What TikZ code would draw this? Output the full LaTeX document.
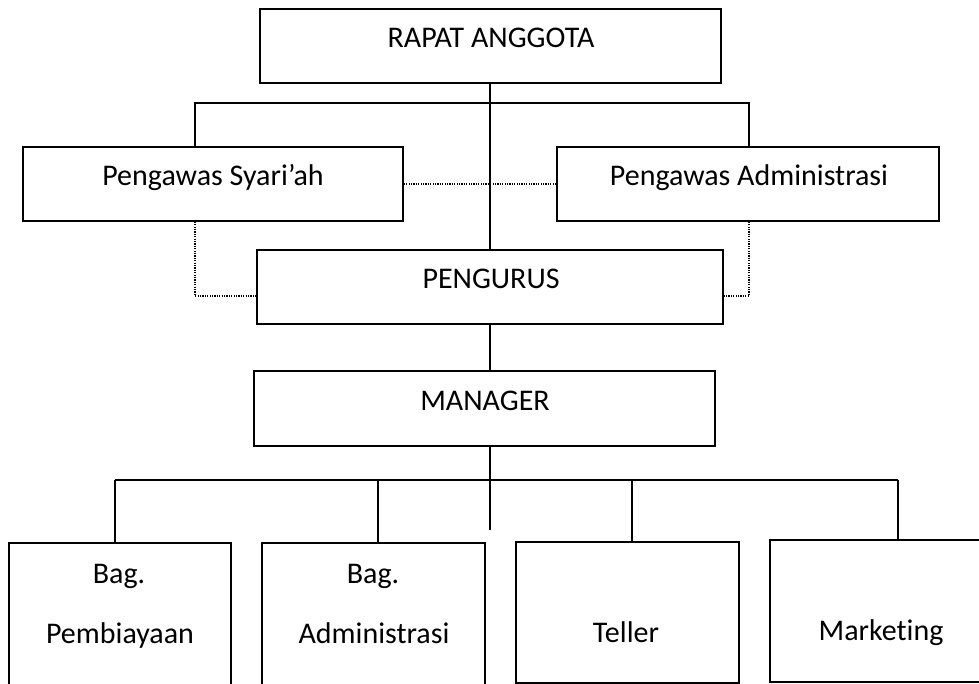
\documentclass[tikz,border=0pt]{standalone}
\usepackage{fontspec}
\setmainfont{Carlito}[Ligatures={NoCommon}]
\begin{document}
\begin{tikzpicture}[x=1pt,y=-1pt,
  box/.style={draw=black,line width=1.5pt,rectangle,inner sep=0pt,fill=white},
  conn/.style={draw=black,line width=1.3pt},
  dotl/.style={draw=black,line width=1.4pt,dash pattern=on 1.2pt off 1.2pt},
  lbl/.style={anchor=base,inner sep=0pt,font=\fontsize{30}{36}\selectfont}]
\useasboundingbox (0,0) rectangle (979,684);
\clip (0,0) rectangle (979,684);
% columns and junctions
\coordinate (cx) at (490,0);
\coordinate (jL) at (195,103);
\coordinate (jR) at (749,103);
\coordinate (dL) at (195,296);
\coordinate (dR) at (749,296);
\coordinate (stub) at (490,530);
\coordinate (c1) at (115,480);
\coordinate (c2) at (378,480);
\coordinate (c3) at (632,480);
\coordinate (c4) at (898,480);
% boxes
\node[box,minimum width=461,minimum height=74] (ra) at (490.5,46) {};
\node[box,minimum width=380,minimum height=74] (ps) at (213,184) {};
\node[box,minimum width=382,minimum height=74] (pa) at (748,184) {};
\node[box,minimum width=466,minimum height=74] (pg) at (490,287) {};
\node[box,minimum width=461,minimum height=75] (mg) at (484.5,408.5) {};
\node[box,minimum width=222,minimum height=200] (b1) at (120,643) {};
\node[box,minimum width=223,minimum height=200] (b2) at (373.5,643) {};
\node[box,minimum width=223,minimum height=141] (b3) at (627.5,612.5) {};
\node[box,minimum width=215,minimum height=142] (b4) at (877.5,611) {};
% connectors
\draw[conn] (ra.south -| cx) -- (pg.north -| cx);
\draw[conn] (ps.north -| jL) -- (jL) -- (jR) -- (pa.north -| jR);
\draw[dotl] (ps.east) -- (pa.west);
\draw[dotl] (ps.south -| dL) -- (dL) -- (dL -| pg.west);
\draw[dotl] (pa.south -| dR) -- (dR) -- (dR -| pg.east);
\draw[conn] (pg.south -| cx) -- (mg.north -| cx);
\draw[conn] (mg.south -| cx) -- (stub);
\draw[conn] (c1) -- (c4);
\draw[conn] (c1) -- (b1.north -| c1);
\draw[conn] (c2) -- (b2.north -| c2);
\draw[conn] (c3) -- (b3.north -| c3);
\draw[conn] (c4) -- (b4.north -| c4);
% texts
\node[lbl] (tra) at (491,48) {RAPAT ANGGOTA};
\node[lbl] (tps) at (213,186) {Pengawas Syari’ah};
\node[lbl] (tpa) at (749,186) {Pengawas Administrasi};
\node[lbl] (tpg) at (491,289) {PENGURUS};
\node[lbl] (tmg) at (485,410) {MANAGER};
\node[lbl] (tb1a) at (119,583) {Bag.};
\node[lbl] (tb1b) at (120,643) {Pembiayaan};
\node[lbl] (tb2a) at (373,583) {Bag.};
\node[lbl] (tb2b) at (374,643) {Administrasi};
\node[lbl] (tb3) at (626,642) {Teller};
\node[lbl] (tb4) at (881,640) {Marketing};
\end{tikzpicture}
\end{document}
